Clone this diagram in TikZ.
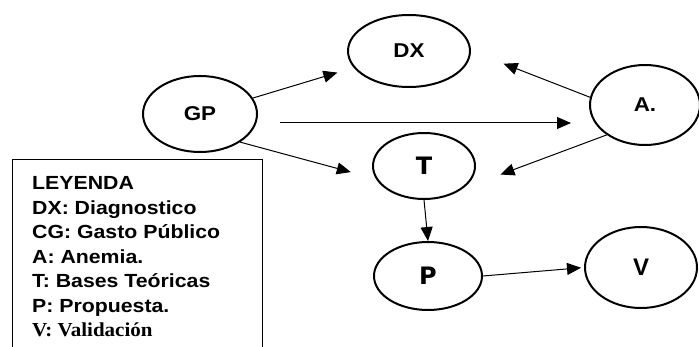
\documentclass[tikz,border=0pt]{standalone}
\usepackage{fontspec}
\setmainfont{Liberation Sans}
\newfontfamily\legfont[FakeStretch=1.12]{Liberation Sans}
\newfontfamily\serfont[FakeStretch=1.06]{Liberation Serif}
\newfontfamily\widefont{DejaVu Sans}
\usetikzlibrary{arrows.meta,shapes.geometric}
\tikzset{
	bubble/.style={draw, ellipse, line width=2pt, inner sep=0pt, font=\legfont\bfseries\fontsize{20}{22}\selectfont},
	arr/.style={-{Triangle[length=14pt, width=12pt]}, line width=1pt},
	frame/.style={line width=1pt}
}

\begin{document}
\begin{tikzpicture}[x=1pt, y=-1pt]
		%%%%% START %%%%%
		\useasboundingbox (0, 0) rectangle (699, 347);
		
		\node[bubble, minimum width=114pt, minimum height=76pt] (gp) at (200, 114) {GP};
		\node[bubble, minimum width=122pt, minimum height=72pt] (dx) at (409, 51) {DX};
		\node[bubble, minimum width=110pt, minimum height=80pt] (a) at (645, 105) {A.};
		\node[bubble, minimum width=102pt, minimum height=66pt, font=\widefont\bfseries\fontsize{24}{26}\selectfont] (t) at (424, 166) {T};
		\node[bubble, minimum width=108pt, minimum height=68pt, font=\widefont\bfseries\fontsize{24}{26}\selectfont] (p) at (428, 276) {P};
		\node[bubble, minimum width=112pt, minimum height=81pt, font=\bfseries\fontsize{24}{26}\selectfont] (v) at (641, 267.5) {V};
		
		\draw[arr, shorten >=17pt] (gp) -- (dx);
		\draw[arr] ([xshift=22pt, yshift=-9pt]gp.east) -- ([xshift=-18pt, yshift=-18pt]a.west);
		\draw[arr, shorten >=26pt] (gp.-35) -- (t.195);
		\draw[arr, shorten >=35pt] (a.172) -- (dx.east);
		\draw[arr, shorten >=40pt] (a.218) -- (t.-30);
		\draw[arr] (t.south) -- (p.north);
		\draw[arr, shorten >=3pt] (p.east) -- (v.west);
		
		\draw[frame] (12, 347) |- (262, 159.5) -- (262, 347);
		\node[anchor=north west, inner sep=0pt, align=left, font=\legfont\bfseries\fontsize{19}{24.5}\selectfont] (leyenda) at (32, 176.5)
			{LEYENDA\\DX: Diagnostico\\CG: Gasto Público\\A: Anemia.\\T: Bases Teóricas\\P: Propuesta.\\{\serfont\bfseries\fontsize{19.8}{24.5}\selectfont V: Validación}};
		
		%%%%% END %%%%%
	\end{tikzpicture}
\end{document}
